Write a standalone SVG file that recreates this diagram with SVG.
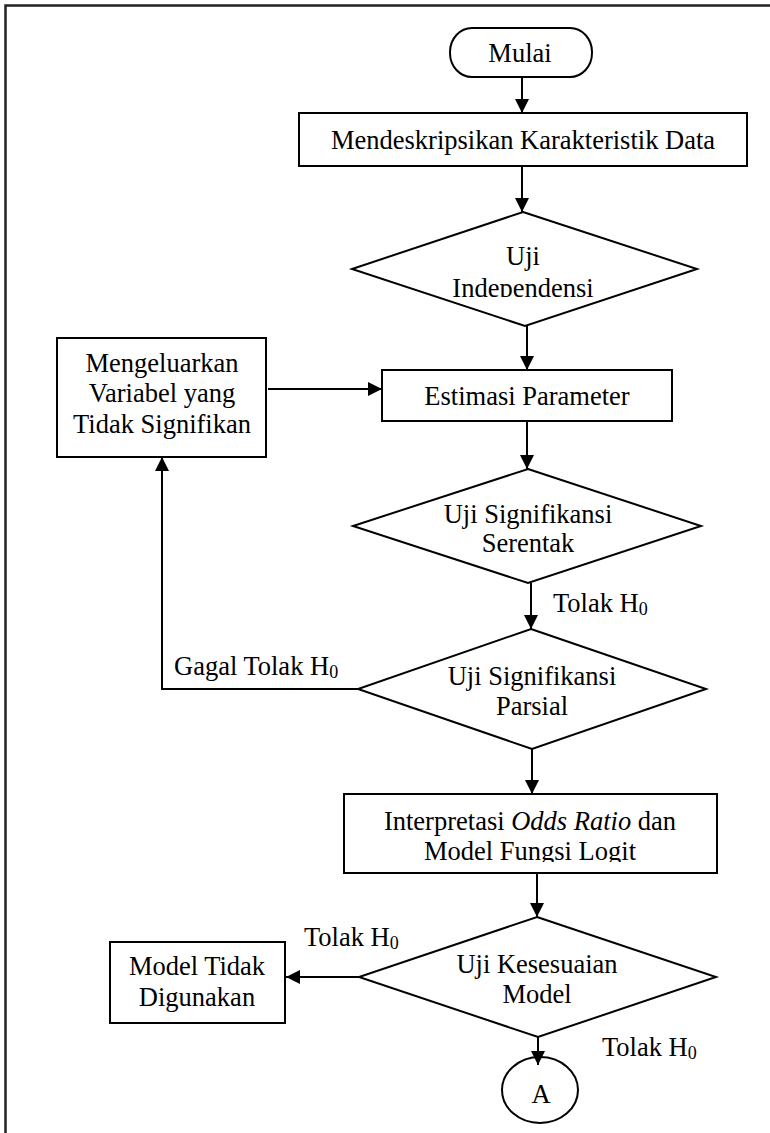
<svg xmlns="http://www.w3.org/2000/svg" width="770" height="1133" viewBox="0 0 770 1133">
<style>
.s{fill:#fff;stroke:#000;stroke-width:2}
.t{font-family:"Liberation Serif","Times New Roman",serif;font-size:26.5px;fill:#000;text-anchor:middle}
.l{font-family:"Liberation Serif","Times New Roman",serif;font-size:26.5px;fill:#000}
.sub{font-size:18px}
.c{fill:none;stroke:#000;stroke-width:2}
</style>
<defs>
<marker id="ah" markerUnits="userSpaceOnUse" markerWidth="14" markerHeight="14" refX="14" refY="7" orient="auto">
<path d="M0,0 L14,7 L0,14 z" fill="#000"/>
</marker>
<clipPath id="clipD1"><rect x="340" y="200" width="370" height="97"/></clipPath>
<clipPath id="clipI"><rect x="340" y="790" width="380" height="72"/></clipPath>
</defs>
<rect width="770" height="1133" fill="#fff"/>
<path d="M5.5,1133 V5.5 H770" fill="none" stroke="#222" stroke-width="2.5"/>

<g id="mulai">
<rect class="s" x="450" y="28" width="142" height="49" rx="22" ry="24"/>
<text class="t" x="520" y="62">Mulai</text>
</g>

<g id="deskripsi">
<rect class="s" x="299" y="113" width="448" height="53"/>
<text class="t" x="523" y="149">Mendeskripsikan Karakteristik Data</text>
</g>

<g id="uji-independensi">
<polygon class="s" points="523,212 697,269 525,326 352,269"/>
<g clip-path="url(#clipD1)">
<text class="t" x="523" y="265">Uji</text>
<text class="t" x="523" y="297">Independensi</text>
</g>
</g>

<g id="estimasi">
<rect class="s" x="382" y="370" width="290" height="51"/>
<text class="t" x="527" y="405">Estimasi Parameter</text>
</g>

<g id="mengeluarkan">
<rect class="s" x="57" y="338" width="209" height="119"/>
<text class="t" x="162" y="372">Mengeluarkan</text>
<text class="t" x="162" y="402">Variabel yang</text>
<text class="t" x="162" y="433">Tidak Signifikan</text>
</g>

<g id="uji-serentak">
<polygon class="s" points="528,469 701,526 528,583 353,526"/>
<text class="t" x="528" y="523">Uji Signifikansi</text>
<text class="t" x="528" y="552">Serentak</text>
</g>

<g id="uji-parsial">
<polygon class="s" points="531,629 706,689 532,749 358,689"/>
<text class="t" x="532" y="685">Uji Signifikansi</text>
<text class="t" x="532" y="715">Parsial</text>
</g>

<g id="interpretasi">
<rect class="s" x="344" y="794" width="373" height="79"/>
<g clip-path="url(#clipI)">
<text class="t" x="530" y="830">Interpretasi <tspan font-style="italic">Odds Ratio</tspan> dan</text>
<text class="t" x="530" y="860">Model Fungsi Logit</text>
</g>
</g>

<g id="uji-kesesuaian">
<polygon class="s" points="537,917 716,977 538,1037 359,977"/>
<text class="t" x="537" y="973">Uji Kesesuaian</text>
<text class="t" x="537" y="1003">Model</text>
</g>

<g id="model-tidak">
<rect class="s" x="110" y="942" width="175" height="81"/>
<text class="t" x="197" y="975">Model Tidak</text>
<text class="t" x="197" y="1006">Digunakan</text>
</g>

<g id="konektor-a">
<ellipse class="s" cx="540" cy="1090" rx="38" ry="33"/>
<text class="t" x="541" y="1103">A</text>
</g>

<g id="connectors">
<line class="c" x1="522" y1="77" x2="522" y2="113" marker-end="url(#ah)"/>
<line class="c" x1="522" y1="166" x2="522" y2="212" marker-end="url(#ah)"/>
<line class="c" x1="527" y1="326" x2="527" y2="370" marker-end="url(#ah)"/>
<line class="c" x1="527" y1="421" x2="527" y2="469" marker-end="url(#ah)"/>
<line class="c" x1="531" y1="583" x2="531" y2="629" marker-end="url(#ah)"/>
<polyline class="c" points="358,689 162,689 162,457" marker-end="url(#ah)"/>
<line class="c" x1="268" y1="389" x2="382" y2="389" marker-end="url(#ah)"/>
<line class="c" x1="532" y1="749" x2="532" y2="794" marker-end="url(#ah)"/>
<line class="c" x1="537" y1="873" x2="537" y2="917" marker-end="url(#ah)"/>
<line class="c" x1="359" y1="977" x2="286" y2="977" marker-end="url(#ah)"/>
<line class="c" x1="538" y1="1037" x2="538" y2="1065" marker-end="url(#ah)"/>
<text class="l" x="553" y="612">Tolak H<tspan class="sub" dy="3">0</tspan></text>
<text class="l" x="174" y="675">Gagal Tolak H<tspan class="sub" dy="3">0</tspan></text>
<text class="l" x="304" y="946">Tolak H<tspan class="sub" dy="3">0</tspan></text>
<text class="l" x="602" y="1056">Tolak H<tspan class="sub" dy="3">0</tspan></text>
</g>
</svg>
